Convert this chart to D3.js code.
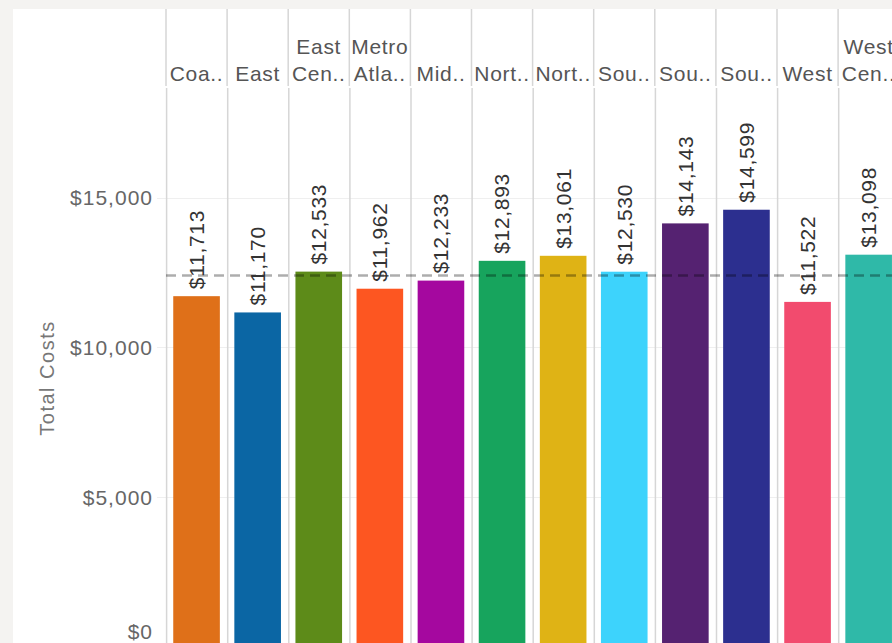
<!DOCTYPE html>
<html>
<head>
<meta charset="utf-8">
<script src="https://cdn.jsdelivr.net/npm/d3@7"></script>
<style>
  html, body { margin: 0; padding: 0; background: #f4f3f1; }
  svg { display: block; font-family: "Liberation Sans", Arial, sans-serif; }
</style>
</head>
<body>
<svg id="chart" width="892" height="643"></svg>
<script>
// Region labels as shown in the column headers (one entry per line)
const regions = [
  ["Coa.."], ["East"], ["East", "Cen.."], ["Metro", "Atla.."], ["Mid.."],
  ["Nort.."], ["Nort.."], ["Sou.."], ["Sou.."], ["Sou.."], ["West"], ["West", "Cen.."]
];
// Total costs per region
const totalCosts = [11713, 11170, 12533, 11962, 12233, 12893, 13061, 12530, 14143, 14599, 11522, 13098];
// Bar colours per region
const regionColors = [
  "#df7019", "#0b66a4", "#5d8b19", "#fd5621", "#a5089f", "#17a45d",
  "#dfb315", "#3dd3fc", "#552271", "#2c2f8f", "#f24b6e", "#2fb9a8"
];
// Reference line (average)
const referenceValue = 12400;
// Axis ticks
const yTicks = [0, 5000, 10000, 15000];

const W = 892, H = 643;
const panelLeft = 13, panelTop = 9;
const headerBottom = 87;
const colStart = 166, colStep = 61.1;
const svg = d3.select("#chart");

// white panel
svg.append("rect").attr("x", panelLeft).attr("y", panelTop)
  .attr("width", W - panelLeft).attr("height", H - panelTop).attr("fill", "#fff");

const keys = regions.map((r, i) => i);
const x = d3.scaleBand().domain(keys)
  .range([colStart, colStart + colStep * keys.length])
  .paddingInner(0.237).paddingOuter(0.1185);
const y = d3.scaleLinear().domain([0, 18630]).range([647, 89]);

// horizontal gridlines
svg.append("g").selectAll("line").data(yTicks.filter(d => d > 0)).join("line")
  .attr("x1", 157).attr("x2", W)
  .attr("y1", d => Math.round(y(d)) + 0.5).attr("y2", d => Math.round(y(d)) + 0.5)
  .attr("stroke", "#efefef").attr("stroke-width", 1);

// column separators (header and pane)
const seps = keys.map(k => x(k) - x.step() * 0.1185);
const sepG = svg.append("g").attr("stroke", "#d6d6d6").attr("stroke-width", 1.5);
sepG.selectAll("line.h").data(seps).join("line").attr("class", "h")
  .attr("x1", d => d).attr("x2", d => d).attr("y1", panelTop).attr("y2", headerBottom - 1);
sepG.selectAll("line.p").data(seps).join("line").attr("class", "p")
  .attr("x1", d => d + 0.6).attr("x2", d => d + 0.6).attr("y1", headerBottom + 1).attr("y2", H);

// bars
svg.append("g").selectAll("rect").data(keys).join("rect")
  .attr("x", k => x(k)).attr("width", x.bandwidth())
  .attr("y", k => y(totalCosts[k])).attr("height", k => y(0) - y(totalCosts[k]))
  .attr("fill", k => regionColors[k]);

// reference line
svg.append("line")
  .attr("x1", colStart).attr("x2", W)
  .attr("y1", y(referenceValue)).attr("y2", y(referenceValue))
  .attr("stroke", "#000").attr("stroke-opacity", 0.32)
  .attr("stroke-width", 2.5).attr("stroke-dasharray", "10,6");

// value labels
const fmt = d3.format("$,.0f");
svg.append("g").selectAll("text").data(keys).join("text")
  .attr("transform", k => `translate(${x(k) + x.bandwidth() / 2},${y(totalCosts[k]) - 7}) rotate(-90)`)
  .attr("dy", "0.35em")
  .attr("font-size", 21).attr("letter-spacing", 0.7).attr("fill", "#333")
  .text(k => fmt(totalCosts[k]));

// column headers
const hdr = svg.append("g").attr("font-size", 21).attr("letter-spacing", 0.7)
  .attr("fill", "#555").attr("text-anchor", "middle");
keys.forEach(k => {
  const lines = regions[k];
  const t = hdr.append("text").attr("x", x(k) + x.bandwidth() / 2);
  lines.forEach((ln, i) => {
    t.append("tspan").attr("x", x(k) + x.bandwidth() / 2)
      .attr("y", 81 - (lines.length - 1 - i) * 27).text(ln);
  });
});

// y axis tick labels
svg.append("g").selectAll("text").data(yTicks).join("text")
  .attr("x", 153).attr("y", d => Math.min(y(d), 632))
  .attr("dy", "0.35em").attr("text-anchor", "end")
  .attr("font-size", 21).attr("letter-spacing", 1).attr("fill", "#666")
  .text(d => fmt(d));

// y axis title
svg.append("text")
  .attr("transform", `translate(47,378) rotate(-90)`)
  .attr("dy", "0.35em").attr("text-anchor", "middle")
  .attr("font-size", 20).attr("letter-spacing", 1.5).attr("fill", "#777")
  .text("Total Costs");
</script>
</body>
</html>
